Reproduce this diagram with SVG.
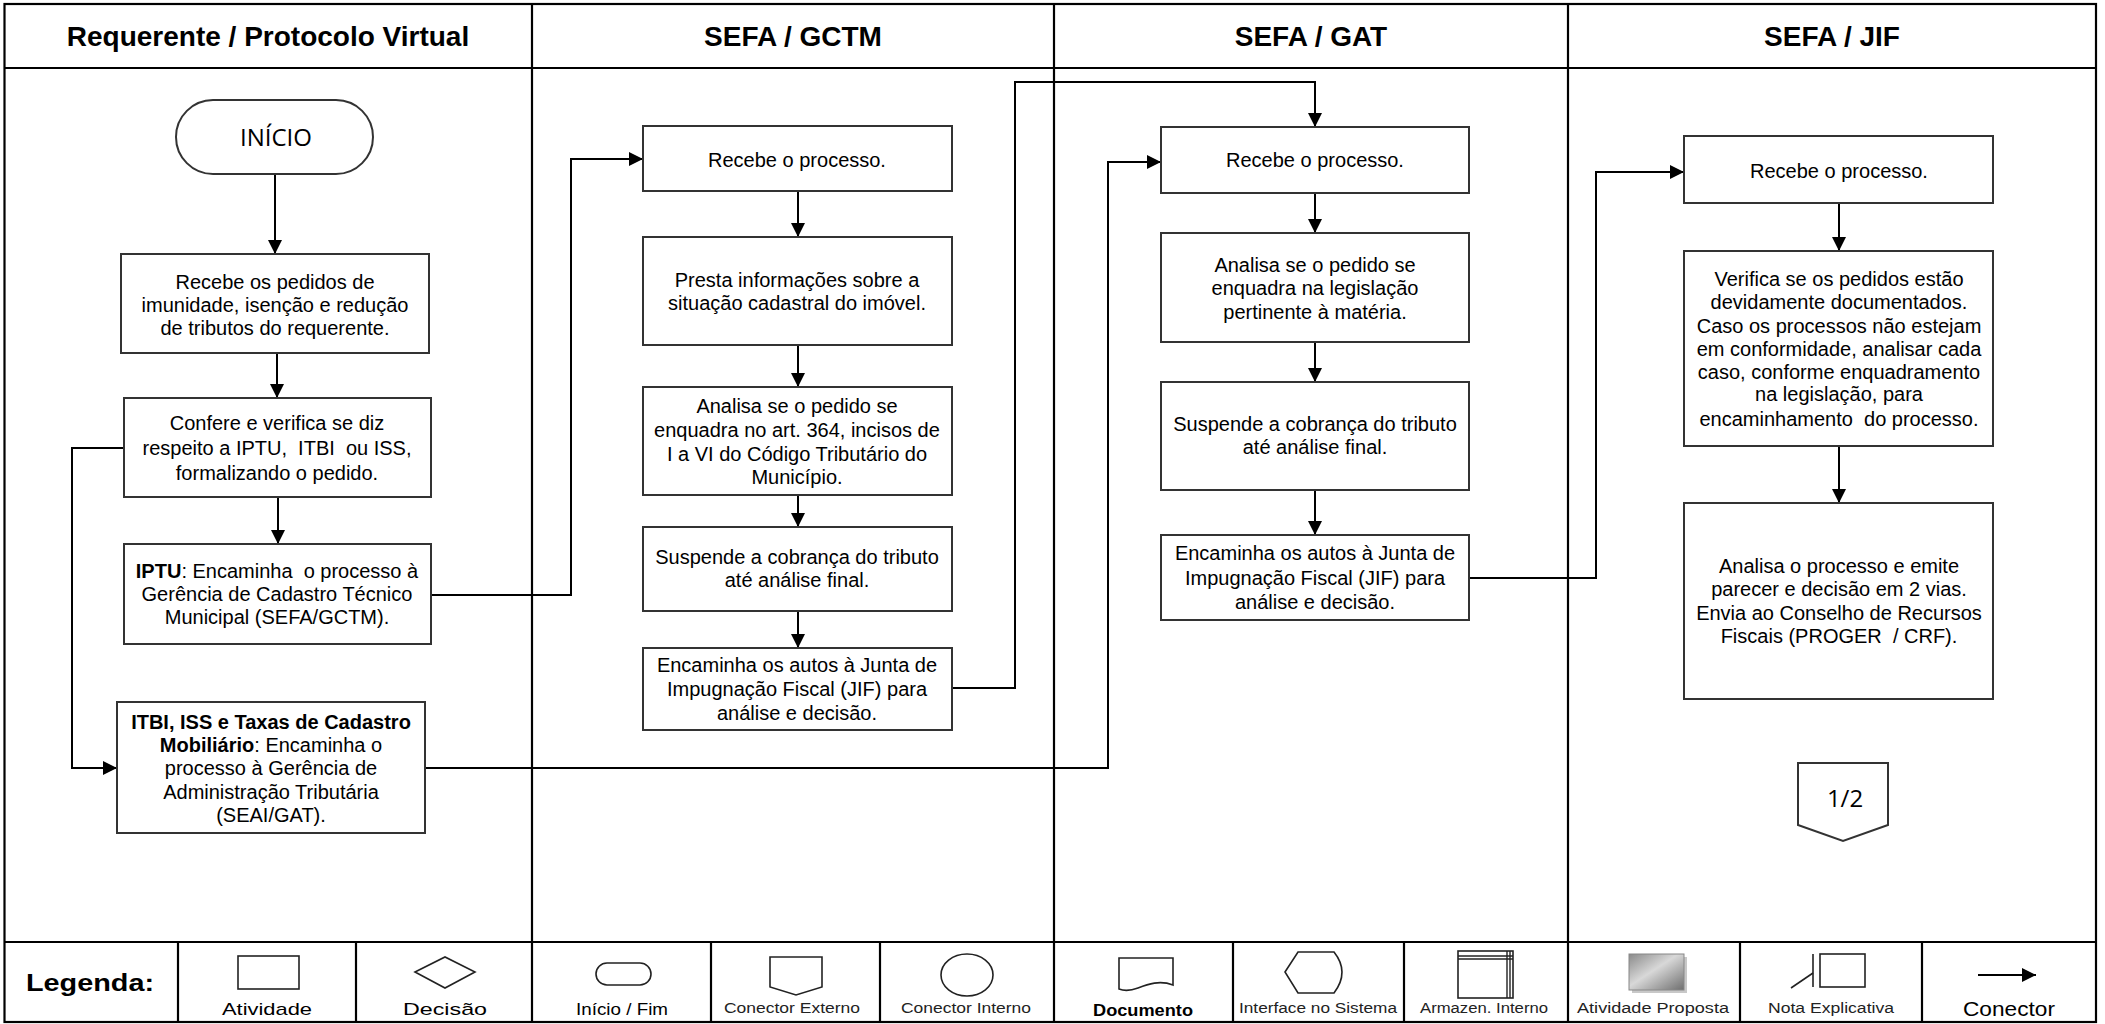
<svg xmlns="http://www.w3.org/2000/svg" width="2105" height="1024" viewBox="0 0 2105 1024">
<style>
.frame{fill:none;stroke:#000;stroke-width:2.2}
.box{fill:#fff;stroke:#333;stroke-width:2}
.sym{fill:#fff;stroke:#222;stroke-width:1.6}
.t{font-family:"Liberation Sans",Arial,sans-serif;font-size:20px;fill:#000;text-anchor:middle}
.h{font-family:"Liberation Sans",Arial,sans-serif;font-size:28px;font-weight:bold;fill:#000;text-anchor:middle}
.lg{font-family:"Liberation Sans",Arial,sans-serif;font-size:14px;fill:#222;text-anchor:middle}
.lg2{font-family:"Liberation Sans",Arial,sans-serif;font-size:17px;fill:#000;text-anchor:middle}
.c{font-family:"Open Sans","Liberation Sans",sans-serif;font-size:24px;fill:#000;text-anchor:middle}
.b{font-weight:bold}
.conn{fill:none;stroke:#000;stroke-width:2}
</style>
<defs>
<marker id="arr" viewBox="0 0 10 10" refX="10" refY="5" markerUnits="userSpaceOnUse" markerWidth="14" markerHeight="14" orient="auto">
<path d="M0,0 L10,5 L0,10 z" fill="#000"/>
</marker>
<linearGradient id="gp" x1="0" y1="0" x2="1" y2="1">
<stop offset="0" stop-color="#8a8a8a"/>
<stop offset="0.45" stop-color="#d8d8d8"/>
<stop offset="1" stop-color="#6e6e6e"/>
</linearGradient>
</defs>
<rect width="2105" height="1024" fill="#fff"/>

<g id="frame">
<rect class="frame" x="4.5" y="4" width="2091.5" height="1018"/>
<line class="frame" x1="4.5" y1="68" x2="2096" y2="68"/>
<line class="frame" x1="4.5" y1="942" x2="2096" y2="942"/>
<line class="frame" x1="532" y1="4" x2="532" y2="1022"/>
<line class="frame" x1="1054" y1="4" x2="1054" y2="1022"/>
<line class="frame" x1="1568" y1="4" x2="1568" y2="1022"/>
<text class="h" x="268" y="46">Requerente / Protocolo Virtual</text>
<text class="h" x="793" y="46">SEFA / GCTM</text>
<text class="h" x="1311" y="46">SEFA / GAT</text>
<text class="h" x="1832" y="46">SEFA / JIF</text>
</g>

<g id="connectors">
<line class="conn" x1="275" y1="174" x2="275" y2="254" marker-end="url(#arr)"/>
<line class="conn" x1="277" y1="353" x2="277" y2="398" marker-end="url(#arr)"/>
<line class="conn" x1="278" y1="497" x2="278" y2="544" marker-end="url(#arr)"/>
<polyline class="conn" points="124,448 72,448 72,768 117,768" marker-end="url(#arr)"/>
<polyline class="conn" points="431,595 571,595 571,159 643,159" marker-end="url(#arr)"/>
<polyline class="conn" points="425,768 1108,768 1108,162 1161,162" marker-end="url(#arr)"/>
<line class="conn" x1="798" y1="191" x2="798" y2="237" marker-end="url(#arr)"/>
<line class="conn" x1="798" y1="345" x2="798" y2="387" marker-end="url(#arr)"/>
<line class="conn" x1="798" y1="495" x2="798" y2="527" marker-end="url(#arr)"/>
<line class="conn" x1="798" y1="611" x2="798" y2="648" marker-end="url(#arr)"/>
<polyline class="conn" points="952,688 1015,688 1015,82 1315,82 1315,127" marker-end="url(#arr)"/>
<line class="conn" x1="1315" y1="193" x2="1315" y2="233" marker-end="url(#arr)"/>
<line class="conn" x1="1315" y1="342" x2="1315" y2="382" marker-end="url(#arr)"/>
<line class="conn" x1="1315" y1="490" x2="1315" y2="535" marker-end="url(#arr)"/>
<polyline class="conn" points="1469,578 1596,578 1596,172 1684,172" marker-end="url(#arr)"/>
<line class="conn" x1="1839" y1="203" x2="1839" y2="251" marker-end="url(#arr)"/>
<line class="conn" x1="1839" y1="446" x2="1839" y2="503" marker-end="url(#arr)"/>
</g>

<g id="inicio">
<rect class="box" x="176" y="100" width="197" height="74" rx="37" ry="37"/>
<text class="c" x="276" y="146">INÍCIO</text>
</g>

<g id="req-recebe">
<rect class="box" x="121" y="254" width="308" height="99"/>
<text class="t" x="275" y="289">Recebe os pedidos de</text>
<text class="t" x="275" y="312">imunidade, isenção e redução</text>
<text class="t" x="275" y="335">de tributos do requerente.</text>
</g>

<g id="req-confere">
<rect class="box" x="124" y="398" width="307" height="99"/>
<text class="t" x="277" y="430">Confere e verifica se diz</text>
<text class="t" x="277" y="455" xml:space="preserve">respeito a IPTU,  ITBI  ou ISS,</text>
<text class="t" x="277" y="480">formalizando o pedido.</text>
</g>

<g id="req-iptu">
<rect class="box" x="124" y="544" width="307" height="100"/>
<text class="t" x="277" y="578" xml:space="preserve"><tspan class="b">IPTU</tspan>: Encaminha  o processo à</text>
<text class="t" x="277" y="601">Gerência de Cadastro Técnico</text>
<text class="t" x="277" y="624">Municipal (SEFA/GCTM).</text>
</g>

<g id="req-itbi">
<rect class="box" x="117" y="702" width="308" height="131"/>
<text class="t b" x="271" y="729">ITBI, ISS e Taxas de Cadastro</text>
<text class="t" x="271" y="752"><tspan class="b">Mobiliário</tspan>: Encaminha o</text>
<text class="t" x="271" y="775">processo à Gerência de</text>
<text class="t" x="271" y="799">Administração Tributária</text>
<text class="t" x="271" y="822">(SEAI/GAT).</text>
</g>

<g id="gctm-recebe">
<rect class="box" x="643" y="126" width="309" height="65"/>
<text class="t" x="797" y="167">Recebe o processo.</text>
</g>

<g id="gctm-presta">
<rect class="box" x="643" y="237" width="309" height="108"/>
<text class="t" x="797" y="287">Presta informações sobre a</text>
<text class="t" x="797" y="310">situação cadastral do imóvel.</text>
</g>

<g id="gctm-analisa">
<rect class="box" x="643" y="387" width="309" height="108"/>
<text class="t" x="797" y="413">Analisa se o pedido se</text>
<text class="t" x="797" y="437">enquadra no art. 364, incisos de</text>
<text class="t" x="797" y="461">I a VI do Código Tributário do</text>
<text class="t" x="797" y="484">Município.</text>
</g>

<g id="gctm-suspende">
<rect class="box" x="643" y="527" width="309" height="84"/>
<text class="t" x="797" y="564">Suspende a cobrança do tributo</text>
<text class="t" x="797" y="587">até análise final.</text>
</g>

<g id="gctm-encaminha">
<rect class="box" x="643" y="648" width="309" height="82"/>
<text class="t" x="797" y="672">Encaminha os autos à Junta de</text>
<text class="t" x="797" y="696">Impugnação Fiscal (JIF) para</text>
<text class="t" x="797" y="720">análise e decisão.</text>
</g>

<g id="gat-recebe">
<rect class="box" x="1161" y="127" width="308" height="66"/>
<text class="t" x="1315" y="167">Recebe o processo.</text>
</g>

<g id="gat-analisa">
<rect class="box" x="1161" y="233" width="308" height="109"/>
<text class="t" x="1315" y="272">Analisa se o pedido se</text>
<text class="t" x="1315" y="295">enquadra na legislação</text>
<text class="t" x="1315" y="319">pertinente à matéria.</text>
</g>

<g id="gat-suspende">
<rect class="box" x="1161" y="382" width="308" height="108"/>
<text class="t" x="1315" y="431">Suspende a cobrança do tributo</text>
<text class="t" x="1315" y="454">até análise final.</text>
</g>

<g id="gat-encaminha">
<rect class="box" x="1161" y="535" width="308" height="85"/>
<text class="t" x="1315" y="560">Encaminha os autos à Junta de</text>
<text class="t" x="1315" y="585">Impugnação Fiscal (JIF) para</text>
<text class="t" x="1315" y="609">análise e decisão.</text>
</g>

<g id="jif-recebe">
<rect class="box" x="1684" y="136" width="309" height="67"/>
<text class="t" x="1839" y="178">Recebe o processo.</text>
</g>

<g id="jif-verifica">
<rect class="box" x="1684" y="251" width="309" height="195"/>
<text class="t" x="1839" y="286">Verifica se os pedidos estão</text>
<text class="t" x="1839" y="309">devidamente documentados.</text>
<text class="t" x="1839" y="333">Caso os processos não estejam</text>
<text class="t" x="1839" y="356">em conformidade, analisar cada</text>
<text class="t" x="1839" y="379">caso, conforme enquadramento</text>
<text class="t" x="1839" y="401">na legislação, para</text>
<text class="t" x="1839" y="426" xml:space="preserve">encaminhamento  do processo.</text>
</g>

<g id="jif-analisa">
<rect class="box" x="1684" y="503" width="309" height="196"/>
<text class="t" x="1839" y="573">Analisa o processo e emite</text>
<text class="t" x="1839" y="596">parecer e decisão em 2 vias.</text>
<text class="t" x="1839" y="620">Envia ao Conselho de Recursos</text>
<text class="t" x="1839" y="643" xml:space="preserve">Fiscais (PROGER  / CRF).</text>
</g>

<g id="conector-1-2">
<polygon class="box" points="1798,763 1888,763 1888,825 1843,841 1798,825"/>
<text class="c" x="1845" y="807">1/2</text>
</g>

<g id="legenda">
<line class="frame" x1="178" y1="942" x2="178" y2="1022"/>
<line class="frame" x1="356" y1="942" x2="356" y2="1022"/>
<line class="frame" x1="711" y1="942" x2="711" y2="1022"/>
<line class="frame" x1="880" y1="942" x2="880" y2="1022"/>
<line class="frame" x1="1233" y1="942" x2="1233" y2="1022"/>
<line class="frame" x1="1404" y1="942" x2="1404" y2="1022"/>
<line class="frame" x1="1740" y1="942" x2="1740" y2="1022"/>
<line class="frame" x1="1922" y1="942" x2="1922" y2="1022"/>
<text x="90" y="991" font-family="Liberation Sans, Arial, sans-serif" font-size="24" font-weight="bold" text-anchor="middle" textLength="128" lengthAdjust="spacingAndGlyphs">Legenda:</text>

<rect class="sym" x="238" y="956" width="61" height="33"/>
<text class="lg2" x="267" y="1015" textLength="90" lengthAdjust="spacingAndGlyphs">Atividade</text>

<polygon class="sym" points="415,972 445,957 475,972 445,988"/>
<text class="lg2" x="445" y="1015" textLength="84" lengthAdjust="spacingAndGlyphs">Decisão</text>

<rect class="sym" x="596" y="963" width="55" height="22" rx="11" ry="11"/>
<text class="lg2" x="622" y="1015" font-size="16" textLength="92" lengthAdjust="spacingAndGlyphs">Início / Fim</text>

<polygon class="sym" points="770,957 822,957 822,987 796,995 770,987"/>
<text class="lg" x="792" y="1013" textLength="136" lengthAdjust="spacingAndGlyphs">Conector Externo</text>

<ellipse class="sym" cx="967" cy="975" rx="26" ry="21"/>
<text class="lg" x="966" y="1013" textLength="130" lengthAdjust="spacingAndGlyphs">Conector Interno</text>

<path class="sym" d="M1119,958 L1173,958 L1173,985 C1160,980 1148,984 1138,988 C1130,991 1124,991 1119,989 Z"/>
<text class="lg2 b" x="1143" y="1016" textLength="100" lengthAdjust="spacingAndGlyphs">Documento</text>

<path class="sym" d="M1285,972 L1298,952 L1334,952 Q1350,972 1334,993 L1298,993 Z"/>
<text class="lg" x="1318" y="1013" textLength="158" lengthAdjust="spacingAndGlyphs">Interface no Sistema</text>

<rect class="sym" x="1458" y="951" width="55" height="47"/>
<line stroke="#222" stroke-width="1.4" x1="1458" y1="956" x2="1513" y2="956"/>
<line stroke="#222" stroke-width="1.4" x1="1458" y1="959" x2="1513" y2="959"/>
<line stroke="#222" stroke-width="1.4" x1="1507" y1="951" x2="1507" y2="998"/>
<line stroke="#222" stroke-width="1.4" x1="1510" y1="951" x2="1510" y2="998"/>
<text class="lg" x="1484" y="1013" textLength="128" lengthAdjust="spacingAndGlyphs">Armazen. Interno</text>

<rect x="1632" y="957" width="55" height="36" fill="#c8c8c8"/>
<rect x="1629" y="954" width="55" height="36" fill="url(#gp)" stroke="#888" stroke-width="1"/>
<text class="lg" x="1653" y="1013" textLength="152" lengthAdjust="spacingAndGlyphs">Atividade Proposta</text>

<rect class="sym" x="1820" y="954" width="45" height="33"/>
<line stroke="#222" stroke-width="1.6" x1="1813" y1="954" x2="1813" y2="987"/>
<line stroke="#222" stroke-width="1.6" x1="1813" y1="973" x2="1791" y2="988"/>
<text class="lg" x="1831" y="1013" textLength="126" lengthAdjust="spacingAndGlyphs">Nota Explicativa</text>

<line class="conn" x1="1978" y1="975" x2="2036" y2="975" marker-end="url(#arr)"/>
<text x="2009" y="1016" font-family="Liberation Sans, Arial, sans-serif" font-size="21" text-anchor="middle" textLength="92" lengthAdjust="spacingAndGlyphs">Conector</text>
</g>
</svg>
